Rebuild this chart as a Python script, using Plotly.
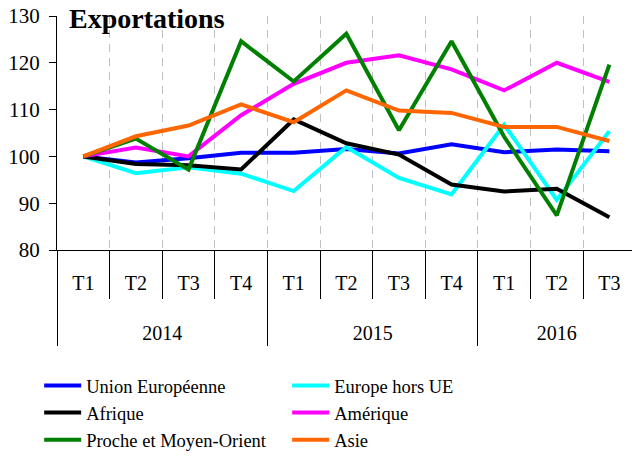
import plotly.graph_objects as go

years = ["2014"] * 4 + ["2015"] * 4 + ["2016"] * 3
quarters = ["T1", "T2", "T3", "T4", "T1", "T2", "T3", "T4", "T1", "T2", "T3"]
year_labels = ["2014", "2015", "2016"]

union_europeenne = [100, 98.7, 99.6, 100.8, 100.8, 101.6, 100.6, 102.6, 100.9, 101.5, 101.1]
europe_hors_ue = [100, 96.4, 97.7, 96.3, 92.6, 102.0, 95.4, 91.9, 106.8, 90.7, 105.4]
afrique = [100, 98.4, 98.1, 97.2, 107.9, 102.8, 100.4, 94.0, 92.5, 93.1, 87.0]
amerique = [100, 101.9, 100.0, 108.8, 115.5, 120.0, 121.6, 118.6, 114.1, 120.0, 115.9]
proche_moyen_orient = [100, 103.8, 97.2, 124.6, 116.0, 126.2, 105.6, 124.6, 104.2, 87.4, 119.6]
asie = [100, 104.3, 106.6, 111.1, 107.3, 114.1, 109.8, 109.3, 106.3, 106.3, 103.3]

series = [
    ("Union Européenne", union_europeenne, "#0000FF"),
    ("Europe hors UE", europe_hors_ue, "#00FFFF"),
    ("Afrique", afrique, "#000000"),
    ("Amérique", amerique, "#FF00FF"),
    ("Proche et Moyen-Orient", proche_moyen_orient, "#008000"),
    ("Asie", asie, "#FF6600"),
]

FONT = "Liberation Serif, Times New Roman, serif"

# positions on the quarter axis
xpos = list(range(len(quarters)))
year_centers = [sum(i for i, y in enumerate(years) if y == yl) / years.count(yl) for yl in year_labels]
group_bounds = [-0.5] + [i - 0.5 for i in range(1, len(years)) if years[i] != years[i - 1]]
quarter_bounds = [i + 0.5 for i in range(len(quarters) - 1) if (i + 0.5) not in group_bounds]

XR = [-0.5, 10.43]

fig = go.Figure()
for name, vals, color in series:
    fig.add_trace(go.Scatter(
        x=xpos, y=vals, name=name, mode="lines",
        line=dict(color=color, width=4),
    ))
# empty carriers so the label axes (quarters, years) are drawn
for ax in ("x2", "x3"):
    fig.add_trace(go.Scatter(x=[], y=[], xaxis=ax, yaxis="y", mode="lines",
                             showlegend=False, hoverinfo="skip"))

fig.update_layout(
    width=632, height=459,
    margin=dict(l=57, r=0, t=16, b=209, autoexpand=False),
    paper_bgcolor="white", plot_bgcolor="white",
    font=dict(family=FONT, size=20, color="black"),
    showlegend=True,
    legend=dict(
        orientation="h", x=-0.031, y=-0.5, xanchor="left", yanchor="top",
        entrywidth=196, entrywidthmode="pixels",
        font=dict(family=FONT, size=18.5, color="black"),
        itemwidth=37, tracegroupgap=0,
    ),
    annotations=[dict(
        text="<b>Exportations</b>", xref="paper", yref="paper",
        x=0.017, y=1.066, xanchor="left", yanchor="top", showarrow=False,
        font=dict(family=FONT, size=28, color="black"),
    )],
    xaxis=dict(
        range=XR, automargin=False, zeroline=False,
        showline=True, linecolor="black", linewidth=1,
        tickmode="array", tickvals=group_bounds, ticktext=[""] * len(group_bounds),
        ticks="outside", ticklen=95, tickcolor="black", tickwidth=1,
        showgrid=True, gridcolor="#C0C0C0", griddash="8px,6px", gridwidth=1,
        minor=dict(
            tickmode="array", tickvals=quarter_bounds,
            ticks="outside", ticklen=48, tickcolor="black", tickwidth=1,
            showgrid=True, gridcolor="#C0C0C0", griddash="8px,6px", gridwidth=1,
        ),
    ),
    xaxis2=dict(
        overlaying="x", anchor="y", side="bottom", range=XR, automargin=False,
        showline=False, showgrid=False, zeroline=False, ticks="",
        tickmode="array", tickvals=xpos, ticktext=quarters,
        ticklabelstandoff=19, ticklabeloverflow="allow",
        tickfont=dict(family=FONT, size=20, color="black"),
    ),
    xaxis3=dict(
        overlaying="x", anchor="y", side="bottom", range=XR, automargin=False,
        showline=False, showgrid=False, zeroline=False, ticks="",
        tickmode="array", tickvals=year_centers, ticktext=year_labels,
        ticklabelstandoff=69, ticklabeloverflow="allow",
        tickfont=dict(family=FONT, size=20, color="black"),
    ),
    yaxis=dict(
        range=[80, 130], dtick=10, automargin=False,
        showline=True, linecolor="black", linewidth=1,
        ticks="outside", ticklen=7, tickcolor="black",
        ticklabelstandoff=5, ticklabeloverflow="allow",
        showgrid=False, zeroline=False,
        tickfont=dict(family=FONT, size=21, color="black"),
    ),
)

fig.write_html("out.html", config={"displayModeBar": False},
               post_script="document.body.style.margin='0';")
